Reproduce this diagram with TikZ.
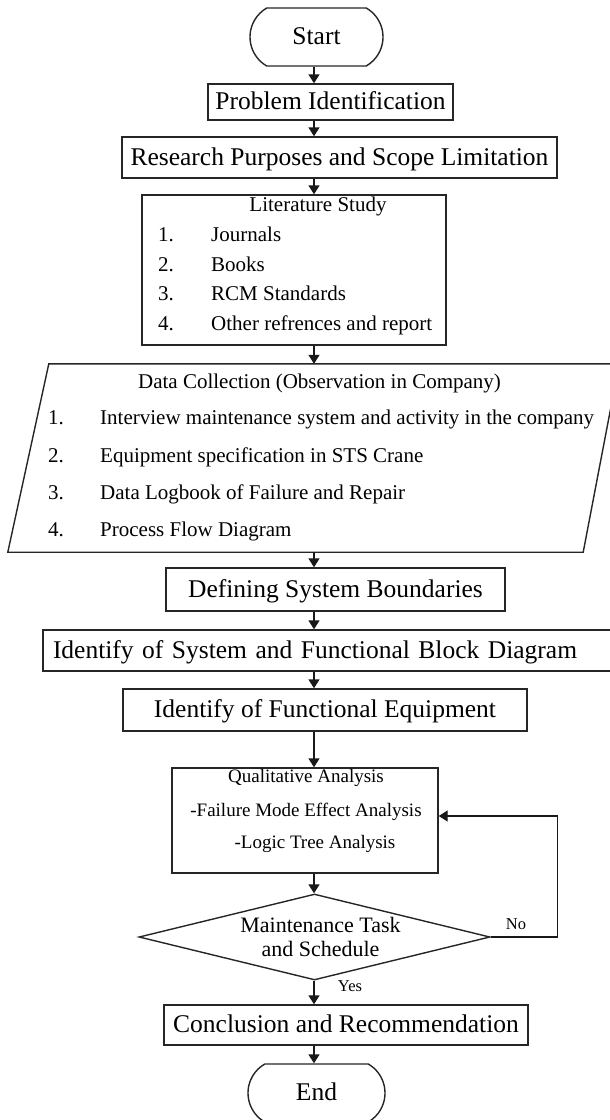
\documentclass[tikz,border=0pt]{standalone}
\usepackage{fontspec}
\setmainfont{Liberation Serif}
\usetikzlibrary{arrows.meta,shapes.misc,shapes.geometric,calc}

\newcommand\fsBig{\fontsize{25.5}{30}\selectfont}
\newcommand\fsList{\fontsize{21}{25}\selectfont}
\newcommand\fsQual{\fontsize{19}{23}\selectfont}
\newcommand\fsDec{\fontsize{22}{24}\selectfont}
\newcommand\fsTag{\fontsize{16.5}{20}\selectfont}

\tikzset{
  outline/.style={draw=black!85, line width=1.4pt},
  bigtext/.style={font=\fsBig, text height=20pt, text depth=5pt},
  listtext/.style={inner sep=0pt, font=\fsList, text height=16.5pt, text depth=4pt},
  qualtext/.style={inner sep=0pt, font=\fsQual, text height=15pt, text depth=3.5pt},
  tagtext/.style={inner sep=0pt, font=\fsTag, text height=13pt, text depth=3.5pt},
  stepbox/.style={outline, rectangle, inner sep=0pt, bigtext},
  termbox/.style={outline, rounded rectangle, rounded rectangle arc length=120, inner sep=0pt, bigtext},
  listnum/.style={listtext, anchor=west},
  arr/.style={draw=black!90, line width=1.4pt, -{Triangle[length=9pt,width=11pt]}}
}

\begin{document}
\begin{tikzpicture}[x=1pt, y=-1pt]
\useasboundingbox (0,0) rectangle (610,1120);
\coordinate (ax) at (314,0);

% terminals and process boxes
\node[termbox, minimum width=133pt, minimum height=58pt] (start) at (316.5,37) {Start};
\node[stepbox, minimum width=245pt, minimum height=36pt] (prob) at (330.5,102) {Problem Identification};
\node[stepbox, minimum width=435pt, minimum height=41pt] (res) at (339.5,157.5) {Research Purposes and Scope Limitation};

% literature study block
\node[outline, rectangle, minimum width=304pt, minimum height=150pt] (lit) at (294,270) {};
\node[listtext] (littitle) at (318,205) {Literature Study};
\node[listnum] (ln1) at (158,235) {1.};
\node[listnum] (lt1) at (211,235) {Journals};
\node[listnum] (ln2) at (158,265) {2.};
\node[listnum] (lt2) at (211,265) {Books};
\node[listnum] (ln3) at (158,294) {3.};
\node[listnum] (lt3) at (211,294) {RCM Standards};
\node[listnum] (ln4) at (158,324) {4.};
\node[listnum] (lt4) at (211,324) {Other refrences and report};

% data collection (input/output parallelogram)
\node[minimum width=611pt, minimum height=188pt, inner sep=0pt] (dc) at (313.5,458) {};
\draw[outline, line join=miter] (dc.south west) -- ($(dc.north west)+(41,0)$) -- (dc.north east)
  -- ($(dc.south east)+(-36,0)$) -- cycle;
\node[listtext] (dctitle) at (319.5,382) {Data Collection (Observation in Company)};
\node[listnum] (dn1) at (48,418) {1.};
\node[listnum] (dt1) at (100,418) {Interview maintenance system and activity in the company};
\node[listnum] (dn2) at (48,456) {2.};
\node[listnum] (dt2) at (100,456) {Equipment specification in STS Crane};
\node[listnum] (dn3) at (48,493) {3.};
\node[listnum] (dt3) at (100,493) {Data Logbook of Failure and Repair};
\node[listnum] (dn4) at (48,530) {4.};
\node[listnum] (dt4) at (100,530) {Process Flow Diagram};

\node[stepbox, minimum width=339pt, minimum height=43pt] (def) at (335.5,589.5) {Defining System Boundaries};
\node[stepbox, minimum width=569pt, minimum height=41pt, inner xsep=10pt, text width=549pt, align=left] (ids) at (327.5,650.5) {Identify of System and Functional Block Diagram};
\node[stepbox, minimum width=404pt, minimum height=42pt] (fe) at (325,710) {Identify of Functional Equipment};

% qualitative analysis block
\node[outline, rectangle, minimum width=266pt, minimum height=105pt] (qa) at (305,820.5) {};
\node[qualtext] (qatitle) at (306,777) {Qualitative Analysis};
\node[qualtext] (qa1) at (306,811) {-Failure Mode Effect Analysis};
\node[qualtext] (qa2) at (315,843) {-Logic Tree Analysis};

% decision
\node[outline, diamond, minimum width=351pt, minimum height=86pt, inner sep=0pt] (dec) at (314.5,937) {};
\node[inner sep=0pt, align=center, font=\fsDec] (dectext) at (320.5,937) {Maintenance Task\\and Schedule};

\node[stepbox, minimum width=364pt, minimum height=40pt] (concl) at (346,1025) {Conclusion and Recommendation};
\node[termbox, minimum width=137pt, minimum height=58pt] (end) at (316.5,1093) {End};

% connectors
\draw[arr] (start.south -| ax) -- (prob.north -| ax);
\draw[arr] (prob.south -| ax) -- (res.north -| ax);
\draw[arr] (res.south -| ax) -- (lit.north -| ax);
\draw[arr] (lit.south -| ax) -- (dc.north -| ax);
\draw[arr] (dc.south -| ax) -- (def.north -| ax);
\draw[arr] (def.south -| ax) -- (ids.north -| ax);
\draw[arr] (ids.south -| ax) -- (fe.north -| ax);
\draw[arr] (fe.south -| ax) -- (qa.north -| ax);
\draw[arr] (qa.south -| ax) -- (dec.north -| ax);
\draw[arr] (dec.south -| ax) -- (concl.north -| ax);
\draw[arr] (concl.south -| ax) -- (end.north -| ax);
\draw[arr] (dec.east) -- ++(67,0) coordinate (loop) |- ($(qa.east)+(0,-4.5)$);
\node[tagtext] (yes) at (350,987) {Yes};
\node[tagtext] (no) at (516,925) {No};
\end{tikzpicture}
\end{document}
